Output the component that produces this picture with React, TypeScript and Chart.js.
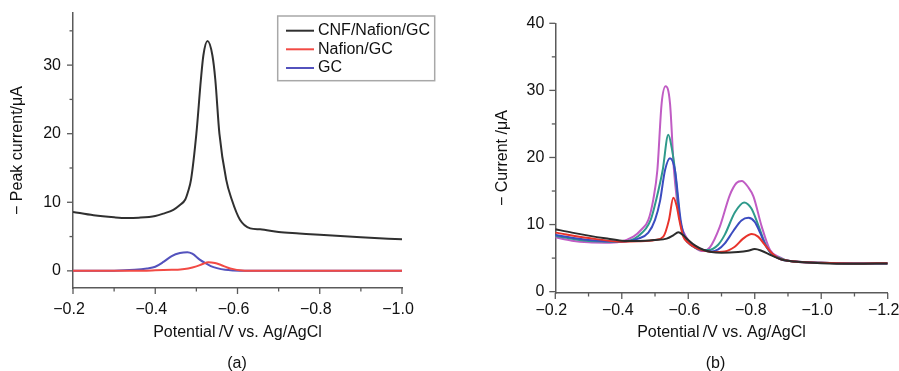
import React, { useEffect, useRef } from "react";
import { Chart, registerables } from "chart.js";
Chart.register(...registerables);

const FONT = "'Liberation Sans', Arial, Helvetica, sans-serif";
const AXIS = "#5a5a5a";
const TXT = "#111111";

// ---------- Panel (a) ----------
const potA_cnf = [-0.20,-0.25,-0.30,-0.33,-0.36,-0.40,-0.42,-0.444,-0.46,-0.473,-0.480,-0.487,-0.500,-0.511,-0.517,-0.527,-0.539,-0.546,-0.556,-0.5725,-0.586,-0.606,-0.631,-0.655,-0.70,-0.75,-0.80,-0.90,-1.00];
const curA_cnf = [8.6,8.1,7.8,7.7,7.75,8.0,8.35,8.9,9.6,10.4,11.6,13.3,20.0,27.9,31.4,33.5,31.4,27.9,20.0,13.3,10.4,7.45,6.2,6.05,5.65,5.45,5.25,4.9,4.6];
const potA_naf = [-0.20,-0.35,-0.40,-0.44,-0.461,-0.48,-0.50,-0.515,-0.529,-0.545,-0.56,-0.575,-0.59,-0.606,-0.63,-1.00];
const curA_naf = [0,0.02,0.08,0.15,0.2,0.35,0.65,1.0,1.27,1.15,0.85,0.5,0.25,0.08,0,0];
const potA_gc = [-0.20,-0.30,-0.35,-0.38,-0.40,-0.42,-0.44,-0.46,-0.478,-0.49,-0.509,-0.521,-0.535,-0.55,-0.57,-0.59,-0.62,-1.00];
const curA_gc = [0,0.02,0.15,0.35,0.6,1.3,2.15,2.6,2.72,2.5,1.6,1.15,0.7,0.4,0.15,0.05,0,0];
const labelsA = ["CNF/Nafion/GC", "Nafion/GC", "GC"];
const colorsA = ["#303030", "#f24a44", "#5352bd"];

// ---------- Panel (b) ----------
const potB_1 = [-0.20,-0.25,-0.30,-0.35,-0.40,-0.45,-0.50,-0.535,-0.555,-0.570,-0.585,-0.60,-0.62,-0.645,-0.67,-0.70,-0.75,-0.78,-0.80,-0.82,-0.85,-0.88,-0.90,-1.00,-1.10,-1.20];
const curB_1 = [9.3,8.8,8.35,7.95,7.6,7.55,7.7,7.9,8.4,8.85,8.4,7.7,6.9,6.25,5.9,5.8,5.9,6.1,6.35,6.1,5.4,4.8,4.6,4.25,4.15,4.2];
const potB_2 = [-0.20,-0.30,-0.40,-0.45,-0.50,-0.525,-0.542,-0.555,-0.565,-0.573,-0.585,-0.60,-0.62,-0.645,-0.67,-0.71,-0.74,-0.765,-0.791,-0.81,-0.83,-0.85,-0.87,-0.90,-1.00,-1.10,-1.20];
const curB_2 = [8.8,8.0,7.45,7.5,7.7,8.2,10.7,14.0,12.8,10.7,8.2,7.3,6.6,6.15,5.9,6.0,6.7,7.9,8.6,8.2,7.0,5.8,5.0,4.6,4.3,4.2,4.25];
const potB_3 = [-0.20,-0.30,-0.40,-0.45,-0.48,-0.50,-0.515,-0.53,-0.545,-0.56,-0.577,-0.59,-0.61,-0.645,-0.67,-0.69,-0.71,-0.735,-0.76,-0.781,-0.80,-0.816,-0.836,-0.86,-0.88,-0.90,-1.00,-1.10,-1.20];
const curB_3 = [8.45,7.7,7.45,7.9,8.8,10.7,13.5,18.1,19.9,18.1,10.7,8.0,6.9,6.2,6.0,6.3,7.2,9.0,10.6,11.0,10.4,8.8,6.6,5.3,4.8,4.6,4.3,4.2,4.2];
const potB_4 = [-0.20,-0.30,-0.40,-0.45,-0.487,-0.505,-0.523,-0.54,-0.55,-0.56,-0.575,-0.59,-0.61,-0.645,-0.66,-0.69,-0.71,-0.74,-0.768,-0.79,-0.81,-0.83,-0.85,-0.876,-0.90,-1.00,-1.10,-1.20];
const curB_4 = [8.3,7.55,7.45,8.3,10.7,14.0,18.1,23.4,21.5,18.1,10.7,8.0,6.9,6.2,6.2,7.0,8.5,11.8,13.3,12.4,10.0,7.3,5.6,5.0,4.6,4.3,4.2,4.2];
const potB_5 = [-0.20,-0.25,-0.30,-0.35,-0.395,-0.435,-0.46,-0.48,-0.495,-0.507,-0.52,-0.532,-0.545,-0.557,-0.575,-0.593,-0.62,-0.645,-0.665,-0.695,-0.725,-0.745,-0.761,-0.78,-0.796,-0.821,-0.846,-0.876,-0.90,-1.00,-1.10,-1.20];
const curB_5 = [8.1,7.6,7.35,7.3,7.45,8.2,9.3,10.7,13.8,18.1,28.1,30.6,28.1,18.1,10.7,8.2,6.6,6.05,6.6,9.7,14.4,16.2,16.5,15.6,14.2,9.7,6.2,5.1,4.6,4.3,4.2,4.25];
const colorsB = ["#2c2c2c", "#e8332b", "#3b4cc0", "#2f9a8b", "#c05cc4"];

const pts = (xs: number[], ys: number[]) => xs.map((x, i) => ({ x, y: ys[i] }));

const isMultiple = (v: number, step: number) => Math.abs(Math.round(v / step) * step - v) < 1e-6;

const ticksPlugin = {
  id: "axisTicks",
  afterDraw(chart: any, _a: any, opts: any) {
    const ctx = chart.ctx;
    ctx.save();
    ctx.strokeStyle = AXIS;
    ctx.lineWidth = 1.3;
    const xs = chart.scales.x, ys = chart.scales.y;
    const b = chart.chartArea.bottom, l = chart.chartArea.left;
    xs.ticks.forEach((t: any) => {
      const px = xs.getPixelForValue(t.value);
      const len = isMultiple(t.value, opts.xMajor) ? 6 : 3.5;
      ctx.beginPath(); ctx.moveTo(px, b); ctx.lineTo(px, b + len); ctx.stroke();
    });
    ys.ticks.forEach((t: any) => {
      const py = ys.getPixelForValue(t.value);
      const len = isMultiple(t.value, opts.yMajor) ? 6 : 3.5;
      ctx.beginPath(); ctx.moveTo(l, py); ctx.lineTo(l - len, py); ctx.stroke();
    });
    ctx.restore();
  },
};

const legendPlugin = {
  id: "boxLegend",
  afterDraw(chart: any, _a: any, opts: any) {
    if (!opts || !opts.show) return;
    const ctx = chart.ctx;
    ctx.save();
    ctx.strokeStyle = "#a8a8a8";
    ctx.lineWidth = 1.5;
    ctx.strokeRect(opts.x, opts.y, opts.w, opts.h);
    chart.data.datasets.forEach((ds: any, i: number) => {
      const ry = opts.rows[i];
      ctx.strokeStyle = ds.borderColor;
      ctx.lineWidth = 2;
      ctx.beginPath(); ctx.moveTo(opts.lineX0, ry); ctx.lineTo(opts.lineX1, ry); ctx.stroke();
      ctx.fillStyle = TXT;
      ctx.font = `16px ${FONT}`;
      ctx.textBaseline = "middle";
      ctx.textAlign = "left";
      ctx.fillText(ds.label, opts.textX, ry);
    });
    ctx.restore();
  },
};

type PanelCfg = {
  width: number;
  datasets: any[];
  xMin: number; xMax: number;
  yMin: number; yMax: number;
  yTitle: string;
  padTop: number; padRight: number; padBottom: number;
  yWidth: number; xHeight: number; yTitlePad: number;
  xLabelPad: number; yLabelPad: number;
  legend: any;
};

function Panel({ cfg, left }: { cfg: PanelCfg; left: number }) {
  const ref = useRef<HTMLCanvasElement | null>(null);
  useEffect(() => {
    if (!ref.current) return;
    const chart = new Chart(ref.current, {
      type: "line",
      data: { datasets: cfg.datasets },
      plugins: [ticksPlugin, legendPlugin],
      options: {
        responsive: false,
        animation: false,
        events: [],
        layout: { padding: { left: 0, top: cfg.padTop, right: cfg.padRight, bottom: cfg.padBottom } },
        elements: { point: { radius: 0 }, line: { borderWidth: 2, cubicInterpolationMode: "monotone" } },
        plugins: {
          legend: { display: false },
          tooltip: { enabled: false },
          axisTicks: { xMajor: 0.2, yMajor: 10 },
          boxLegend: cfg.legend,
        } as any,
        scales: {
          x: {
            type: "linear",
            reverse: true,
            min: cfg.xMin,
            max: cfg.xMax,
            grid: { display: false, drawTicks: false },
            border: { display: true, color: AXIS, width: 1.5 },
            ticks: {
              stepSize: 0.1,
              autoSkip: false,
              maxRotation: 0,
              includeBounds: false,
              padding: cfg.xLabelPad,
              labelOffset: -4,
              color: TXT,
              font: { family: FONT, size: 16 },
              callback: (v: any) => (isMultiple(Number(v), 0.2) ? "\u2212" + Math.abs(Number(v)).toFixed(1) : ""),
            },
            title: {
              display: true,
              text: "Potential\u2009/V vs. Ag/AgCl",
              color: TXT,
              font: { family: FONT, size: 16 },
              padding: { top: 0, bottom: 0 },
            },
            afterFit: (s: any) => { s.height = cfg.xHeight; s.paddingLeft = 0; s.paddingRight = 0; },
          },
          y: {
            type: "linear",
            min: cfg.yMin,
            max: cfg.yMax,
            grid: { display: false, drawTicks: false },
            border: { display: true, color: AXIS, width: 1.5 },
            ticks: {
              stepSize: 5,
              autoSkip: false,
              includeBounds: false,
              padding: cfg.yLabelPad,
              color: TXT,
              font: { family: FONT, size: 16 },
              callback: (v: any) => (isMultiple(Number(v), 10) ? String(Math.round(Number(v))) : ""),
            },
            title: {
              display: true,
              text: cfg.yTitle,
              color: TXT,
              font: { family: FONT, size: 16 },
              padding: { top: cfg.yTitlePad, bottom: 0 },
            },
            afterFit: (s: any) => { s.width = cfg.yWidth; s.paddingTop = 0; s.paddingBottom = 0; },
          },
        },
      } as any,
    });
    return () => chart.destroy();
  }, [cfg]);
  return (
    <canvas
      ref={ref}
      width={cfg.width}
      height={371}
      style={{ position: "absolute", left, top: 0, width: cfg.width, height: 371 }}
    />
  );
}

const mk = (label: string, color: string, xs: number[], ys: number[]) => ({
  label,
  data: pts(xs, ys),
  borderColor: color,
  backgroundColor: color,
  fill: false,
  borderWidth: 2,
  pointRadius: 0,
  cubicInterpolationMode: "monotone",
});

const cfgA: PanelCfg = {
  width: 450,
  datasets: [
    mk(labelsA[0], colorsA[0], potA_cnf, curA_cnf),
    mk(labelsA[1], colorsA[1], potA_naf, curA_naf),
    mk(labelsA[2], colorsA[2], potA_gc, curA_gc),
  ],
  xMin: -1.0, xMax: -0.2,
  yMin: -2.5, yMax: 37.6,
  yTitle: "\u2212 Peak current/\u03bcA",
  padTop: 13, padRight: 48, padBottom: 29,
  yWidth: 73, xHeight: 54, yTitlePad: 8,
  xLabelPad: 11.5, yLabelPad: 12,
  legend: { show: true, x: 277.7, y: 16, w: 157, h: 64.7, lineX0: 286, lineX1: 314, textX: 318, rows: [30.7, 49.3, 68] },
};

const cfgB: PanelCfg = {
  width: 449,
  datasets: [
    mk("1", colorsB[0], potB_1, curB_1),
    mk("2", colorsB[1], potB_2, curB_2),
    mk("3", colorsB[2], potB_3, curB_3),
    mk("4", colorsB[3], potB_4, curB_4),
    mk("5", colorsB[4], potB_5, curB_5),
  ],
  xMin: -1.2, xMax: -0.2,
  yMin: -0.2, yMax: 40,
  yTitle: "\u2212 Current /\u03bcA",
  padTop: 23.3, padRight: 11.3, padBottom: 28.7,
  yWidth: 105.3, xHeight: 49.3, yTitlePad: 43.4,
  xLabelPad: 8, yLabelPad: 11,
  legend: { show: false },
};

const capStyle: React.CSSProperties = {
  position: "absolute",
  top: 363,
  transform: "translate(-50%, -50%)",
  fontFamily: FONT,
  fontSize: 16,
  lineHeight: 1,
  color: TXT,
  whiteSpace: "nowrap",
};

export default function App() {
  return (
    <div style={{ position: "fixed", left: 0, top: 0, width: 899, height: 371, background: "#fff", overflow: "hidden" }}>
      <Panel cfg={cfgA} left={0} />
      <Panel cfg={cfgB} left={450} />
      <div style={{ ...capStyle, left: 237 }}>(a)</div>
      <div style={{ ...capStyle, left: 715.5 }}>(b)</div>
    </div>
  );
}
